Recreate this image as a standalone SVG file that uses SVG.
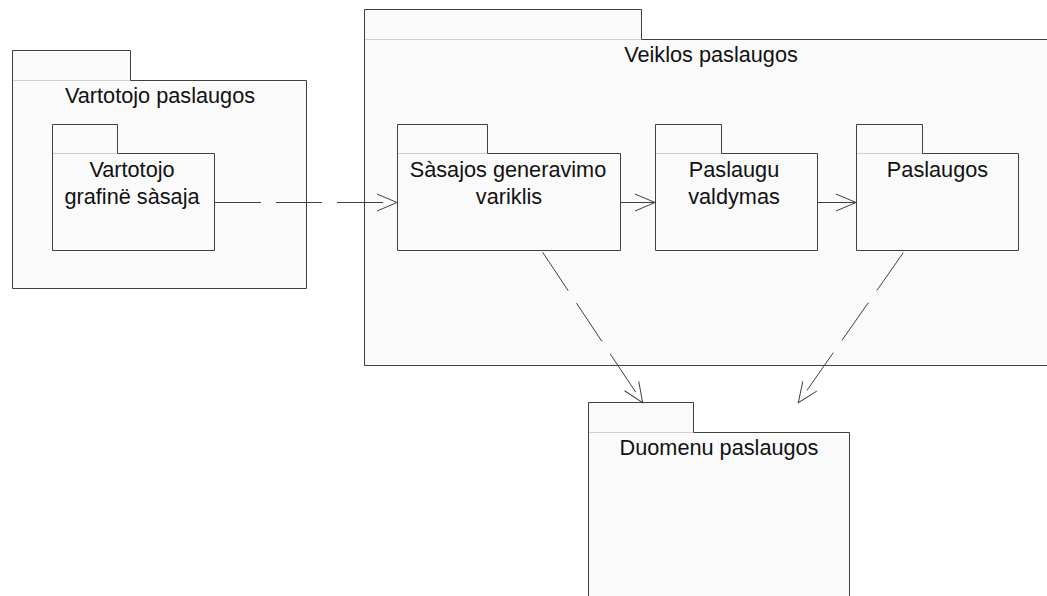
<svg xmlns="http://www.w3.org/2000/svg" width="1047" height="596" viewBox="0 0 1047 596">
  <style>
    .pkg { fill: #fafafa; stroke: #404040; stroke-width: 1; }
    .sep { stroke: #cfcfcf; stroke-width: 1; fill: none; }
    .lbl { font-family: "Liberation Sans", Arial, sans-serif; font-size: 21.7px; fill: #111; text-anchor: middle; }
    .dep { stroke: #404040; stroke-width: 1; fill: none; marker-end: url(#open); }
    .dash { stroke-dasharray: 46 15; }
  </style>
  <defs>
    <marker id="open" viewBox="-21 -10 23 20" refX="0" refY="0" markerWidth="23" markerHeight="20" markerUnits="userSpaceOnUse" orient="auto" overflow="visible">
      <path d="M-20,-8.5 L0,0 L-20,8.5" fill="none" stroke="#404040" stroke-width="1"/>
    </marker>
  </defs>
  <rect width="1047" height="596" fill="#ffffff"/>

  <g id="vartotojo-paslaugos">
    <path class="pkg" d="M12.5,50.5 H130.5 V80.5 H306.5 V288.5 H12.5 Z"/>
    <line class="sep" x1="13" y1="80.5" x2="130" y2="80.5"/>
    <text class="lbl" x="160" y="103">Vartotojo paslaugos</text>
  </g>

  <g id="veiklos-paslaugos">
    <path class="pkg" d="M364.5,9.5 H641.5 V39.5 H1060 V365.5 H364.5 Z"/>
    <line class="sep" x1="365" y1="39.5" x2="641" y2="39.5"/>
    <text class="lbl" x="711" y="62">Veiklos paslaugos</text>
  </g>

  <g id="vartotojo-grafine-sasaja">
    <path class="pkg" d="M52.5,124.5 H117.5 V153.5 H214.5 V250.5 H52.5 Z"/>
    <line class="sep" x1="53" y1="153.5" x2="117" y2="153.5"/>
    <text class="lbl" x="132" y="177">Vartotojo</text>
    <text class="lbl" x="132" y="204">grafinë sàsaja</text>
  </g>

  <g id="sasajos-generavimo-variklis">
    <path class="pkg" d="M397.5,124.5 H487.5 V153.5 H620.5 V250.5 H397.5 Z"/>
    <line class="sep" x1="398" y1="153.5" x2="487" y2="153.5"/>
    <text class="lbl" x="508" y="177">Sàsajos generavimo</text>
    <text class="lbl" x="509" y="204">variklis</text>
  </g>

  <g id="paslaugu-valdymas">
    <path class="pkg" d="M655.5,124.5 H721.5 V153.5 H817.5 V250.5 H655.5 Z"/>
    <line class="sep" x1="656" y1="153.5" x2="721" y2="153.5"/>
    <text class="lbl" x="734" y="177">Paslaugu</text>
    <text class="lbl" x="734" y="204">valdymas</text>
  </g>

  <g id="paslaugos">
    <path class="pkg" d="M856.5,124.5 H922.5 V153.5 H1018.5 V250.5 H856.5 Z"/>
    <line class="sep" x1="857" y1="153.5" x2="922" y2="153.5"/>
    <text class="lbl" x="937.5" y="177">Paslaugos</text>
  </g>

  <g id="duomenu-paslaugos">
    <path class="pkg" d="M588.5,402.5 H693.5 V432.5 H849.5 V610 H588.5 Z"/>
    <line class="sep" x1="589" y1="432.5" x2="693" y2="432.5"/>
    <text class="lbl" x="719" y="455">Duomenu paslaugos</text>
  </g>

  <g id="connectors">
    <path class="dep dash" d="M215,202.5 H397"/>
    <path class="dep" d="M621,202.5 H655"/>
    <path class="dep" d="M818,202.5 H856"/>
    <path class="dep dash" d="M542.7,252.3 L642.7,402.7"/>
    <path class="dep dash" d="M903.3,252.7 L798.3,402.7"/>
  </g>
</svg>
